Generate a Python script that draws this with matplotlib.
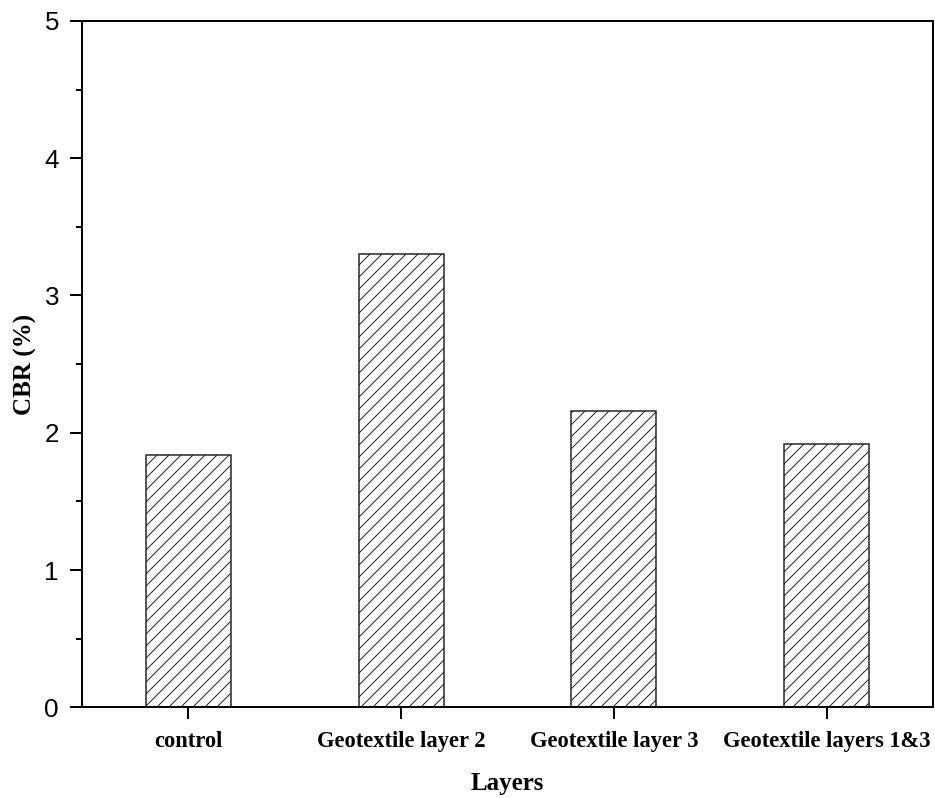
import matplotlib.pyplot as plt
from matplotlib.ticker import MultipleLocator

capas = ['control', 'Geotextile layer 2', 'Geotextile layer 3', 'Geotextile layers 1&3']
cbr = [1.84, 3.30, 2.155, 1.92]
pos = [1, 2, 3, 4]

plt.rcParams['hatch.linewidth'] = 1.0
plt.rcParams['hatch.color'] = '#333333'
fig = plt.figure(figsize=(935/72, 798/72), dpi=72)
ax = fig.add_axes([0.0877, 0.1137, 0.9102, 0.86])

ax.bar(pos, cbr, width=0.4, color='white', edgecolor='#222222', linewidth=1.5, hatch='//')

ax.set_xlim(0.5, 4.5)
ax.set_ylim(0, 5)
ax.yaxis.set_major_locator(MultipleLocator(1))
ax.yaxis.set_minor_locator(MultipleLocator(0.5))
ax.set_xticks(pos)
ax.set_xticklabels(capas, fontfamily='Liberation Serif', fontweight='bold', fontsize=22.5)
for lab in ax.get_yticklabels():
    lab.set_fontfamily('Liberation Sans')
ax.tick_params(axis='y', which='major', length=12, width=2, labelsize=26, pad=11)
ax.tick_params(axis='y', which='minor', length=6, width=2)
ax.tick_params(axis='x', which='major', length=12, width=2, pad=12)
for s in ax.spines.values():
    s.set_linewidth(2)

ax.set_xlabel('Layers', fontfamily='Liberation Serif', fontweight='bold', fontsize=25, labelpad=20)
ax.set_ylabel('CBR (%)', fontfamily='Liberation Serif', fontweight='bold', fontsize=25, labelpad=7)

fig.savefig('out.png', dpi=72)
